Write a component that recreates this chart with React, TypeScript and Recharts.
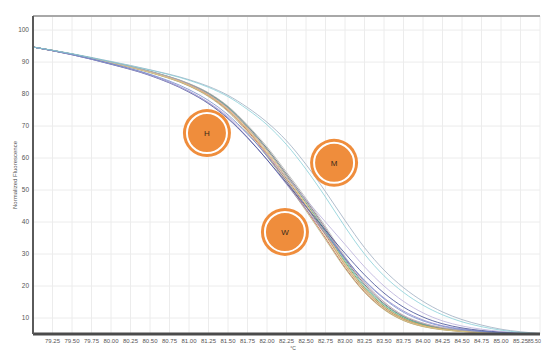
import React from 'react';
import {
  LineChart,
  Line,
  XAxis,
  YAxis,
  CartesianGrid,
  ReferenceDot,
  ReferenceLine,
} from 'recharts';

// temperatures (°C) where each melt curve was read
const temps = [79.0, 79.5, 80.0, 80.5, 81.0, 81.25, 81.5, 81.75, 82.0, 82.25, 82.5, 82.75, 83.0, 83.25, 83.5, 83.75, 84.0, 84.25, 84.5, 84.75, 85.0, 85.25, 85.5];

// wild type group
const w1 = [94.7, 92.5, 89.9, 87.0, 83.0, 80.0, 75.6, 69.5, 62.5, 54.5, 46.0, 37.0, 27.5, 19.5, 13.8, 10.0, 7.9, 6.7, 6.0, 5.6, 5.3, 5.1, 5.0];
const w2 = [94.7, 92.5, 89.8, 86.9, 82.8, 79.6, 75.0, 68.8, 61.5, 53.5, 45.0, 36.0, 26.5, 18.8, 13.2, 9.6, 7.6, 6.5, 5.9, 5.5, 5.2, 5.1, 5.0];
const w3 = [94.7, 92.4, 89.8, 86.8, 82.6, 79.4, 74.8, 68.5, 61.0, 52.8, 44.0, 35.0, 25.8, 18.2, 12.8, 9.3, 7.4, 6.4, 5.8, 5.4, 5.2, 5.1, 5.0];
const w4 = [94.7, 92.5, 89.9, 87.1, 83.2, 80.3, 76.0, 70.0, 63.0, 55.0, 46.8, 38.0, 28.5, 20.5, 14.5, 10.5, 8.2, 6.8, 6.1, 5.6, 5.3, 5.1, 5.0];
const w5 = [94.7, 92.4, 89.7, 86.7, 82.5, 79.2, 74.5, 68.0, 60.5, 52.2, 43.5, 34.5, 25.5, 18.0, 12.6, 9.2, 7.3, 6.3, 5.8, 5.4, 5.2, 5.1, 5.0];
const w6 = [94.7, 92.5, 89.9, 87.0, 83.1, 80.1, 75.8, 69.8, 62.8, 54.8, 46.5, 37.5, 28.0, 20.0, 14.2, 10.3, 8.0, 6.7, 6.0, 5.6, 5.3, 5.1, 5.0];
const w7 = [94.7, 92.4, 89.8, 86.9, 82.9, 79.8, 75.3, 69.2, 62.0, 54.0, 45.5, 36.5, 27.0, 19.2, 13.5, 9.8, 7.7, 6.6, 5.9, 5.5, 5.2, 5.1, 5.0];
const w8 = [94.7, 92.5, 89.9, 87.0, 83.0, 79.9, 75.5, 69.6, 62.6, 54.8, 46.5, 37.8, 28.8, 21.0, 15.0, 10.8, 8.4, 7.0, 6.2, 5.7, 5.3, 5.1, 5.0];
const w9 = [94.7, 92.4, 89.8, 86.8, 82.7, 79.5, 75.0, 68.8, 61.5, 53.2, 44.6, 35.6, 26.4, 18.6, 13.0, 9.4, 7.5, 6.4, 5.8, 5.4, 5.2, 5.1, 5.0];
const w10 = [94.7, 92.5, 89.9, 87.1, 83.3, 80.4, 76.2, 70.3, 63.5, 55.6, 47.4, 38.6, 29.2, 21.2, 15.0, 10.8, 8.4, 7.0, 6.2, 5.7, 5.3, 5.1, 5.0];

// heterozygous group
const h1 = [94.7, 92.3, 89.4, 86.0, 80.9, 77.3, 72.6, 66.5, 59.5, 51.8, 44.0, 36.2, 28.6, 21.8, 16.3, 12.2, 9.4, 7.6, 6.6, 5.9, 5.5, 5.2, 5.0];
const h2 = [94.7, 92.3, 89.3, 85.8, 80.6, 77.0, 72.3, 66.3, 59.5, 52.2, 44.8, 37.4, 30.2, 23.5, 17.8, 13.4, 10.3, 8.2, 6.9, 6.1, 5.6, 5.2, 5.0];
const h3 = [94.7, 92.3, 89.4, 85.9, 80.8, 77.4, 73.0, 67.4, 61.0, 54.0, 47.0, 40.0, 33.0, 26.0, 20.0, 15.2, 11.6, 9.1, 7.5, 6.5, 5.8, 5.3, 5.0];
const h4 = [94.7, 92.4, 89.5, 86.2, 81.4, 78.0, 73.5, 67.6, 60.6, 52.8, 44.8, 36.8, 28.8, 21.6, 16.0, 11.8, 9.1, 7.4, 6.4, 5.8, 5.4, 5.2, 5.0];

// mutant group
const m1 = [94.7, 92.6, 90.2, 87.6, 84.5, 82.4, 79.6, 75.8, 71.2, 65.4, 58.0, 49.5, 40.5, 32.0, 25.0, 19.5, 15.2, 11.9, 9.5, 7.8, 6.5, 5.7, 5.2];
const m2 = [94.7, 92.6, 90.1, 87.5, 84.3, 82.1, 79.2, 75.2, 70.4, 64.2, 56.5, 47.8, 38.5, 30.0, 23.2, 18.0, 14.0, 11.0, 8.8, 7.3, 6.2, 5.5, 5.1];

const xTicks = [79.25, 79.5, 79.75, 80.0, 80.25, 80.5, 80.75, 81.0, 81.25, 81.5, 81.75, 82.0, 82.25, 82.5, 82.75, 83.0, 83.25, 83.5, 83.75, 84.0, 84.25, 84.5, 84.75, 85.0, 85.25, 85.5];
const yTicks = [10, 20, 30, 40, 50, 60, 70, 80, 90, 100];

const groupLabels = ['H', 'M', 'W'];
const groupTemps = [81.23, 82.86, 82.23];
const groupValues = [67.8, 58.5, 36.9];

const series = [
  { key: 'w1', values: w1, color: '#4a9a50' },
  { key: 'w2', values: w2, color: '#8a5a30' },
  { key: 'w3', values: w3, color: '#c0443a' },
  { key: 'w4', values: w4, color: '#555555' },
  { key: 'w5', values: w5, color: '#b0b070' },
  { key: 'w6', values: w6, color: '#50a898' },
  { key: 'w7', values: w7, color: '#e0a060' },
  { key: 'w8', values: w8, color: '#d8a0c0' },
  { key: 'w9', values: w9, color: '#e0d890' },
  { key: 'w10', values: w10, color: '#b0b0b0' },
  { key: 'h1', values: h1, color: '#8a80c8' },
  { key: 'h2', values: h2, color: '#34408c' },
  { key: 'h3', values: h3, color: '#b4aad8' },
  { key: 'h4', values: h4, color: '#6a84c8' },
  { key: 'm1', values: m1, color: '#98a8bc' },
  { key: 'm2', values: m2, color: '#80ccd6' },
];

const data = temps.map((t, i) => {
  const row: any = { t };
  series.forEach((s) => {
    row[s.key] = s.values[i];
  });
  return row;
});

const yMin = 5;
const yMax = 104.4;
const FONT = 'Liberation Sans, Arial, sans-serif';
const tickFont = { fontSize: 6.5, fill: '#555', fontFamily: FONT };

// the last tick label sits at the canvas edge, so it is right-aligned and a bit smaller
const XTick = ({ x, y, payload }: any) => {
  const last = payload.value === xTicks[xTicks.length - 1];
  return (
    <text
      x={last ? 541 : x}
      y={y}
      dy={4}
      textAnchor={last ? 'end' : 'middle'}
      fontSize={last ? 5.3 : 6}
      fill="#555"
      fontFamily={FONT}
    >
      {Number(payload.value).toFixed(2)}
    </text>
  );
};

const GroupBadge = ({ cx, cy, label }: any) => (
  <g>
    <circle cx={cx} cy={cy} r={24} fill="#ef8d3c" />
    <circle cx={cx} cy={cy} r={20} fill="none" stroke="#fff" strokeWidth={2} />
    <text x={cx} y={cy + 3} textAnchor="middle" fontSize={8} fill="#3a2a1a" fontFamily={FONT}>
      {label}
    </text>
  </g>
);

export default function App() {
  return (
    <div style={{ position: 'absolute', left: 0, top: 0, width: 542, height: 350, background: '#fff' }}>
      <LineChart width={542} height={350} data={data} margin={{ top: 16, right: 2, left: 0, bottom: 0 }}>
        <CartesianGrid stroke="#ececec" strokeWidth={1} />
        <XAxis
          dataKey="t"
          type="number"
          domain={[79, 85.5]}
          ticks={xTicks}
          tick={<XTick />}
          tickLine={false}
          tickSize={0}
          tickMargin={5}
          height={16}
          axisLine={{ stroke: '#4a4a4a', strokeWidth: 3 }}
          interval={0}
          allowDataOverflow
          label={{
            content: () => (
              <text x={293} y={350} textAnchor="middle" fontSize={5} fill="#555" fontFamily={FONT}>
                °C
              </text>
            ),
          }}
        />
        <YAxis
          type="number"
          domain={[yMin, yMax]}
          ticks={yTicks}
          tick={tickFont}
          tickLine={false}
          tickSize={0}
          tickMargin={4}
          width={33}
          axisLine={{ stroke: '#5a5a5a', strokeWidth: 2 }}
          allowDataOverflow
          label={{
            content: (p: any) => {
              const vb = p.viewBox || { y: 16, height: 318 };
              const cy = vb.y + vb.height / 2;
              return (
                <text
                  x={17}
                  y={cy}
                  transform={`rotate(-90 17 ${cy})`}
                  textAnchor="middle"
                  fontSize={6}
                  fill="#555"
                  fontFamily={FONT}
                >
                  Normalized Fluorescence
                </text>
              );
            },
          }}
        />
        <ReferenceLine y={yMax} stroke="#a8a8a8" strokeWidth={2} ifOverflow="visible" />
        {series.map((s) => (
          <Line
            key={s.key}
            dataKey={s.key}
            type="monotone"
            stroke={s.color}
            strokeWidth={1}
            strokeOpacity={0.75}
            dot={false}
            isAnimationActive={false}
          />
        ))}
        {groupLabels.map((g, i) => (
          <ReferenceDot
            key={g}
            x={groupTemps[i]}
            y={groupValues[i]}
            r={24}
            ifOverflow="visible"
            shape={(p: any) => <GroupBadge cx={p.cx} cy={p.cy} label={g} />}
          />
        ))}
      </LineChart>
    </div>
  );
}
